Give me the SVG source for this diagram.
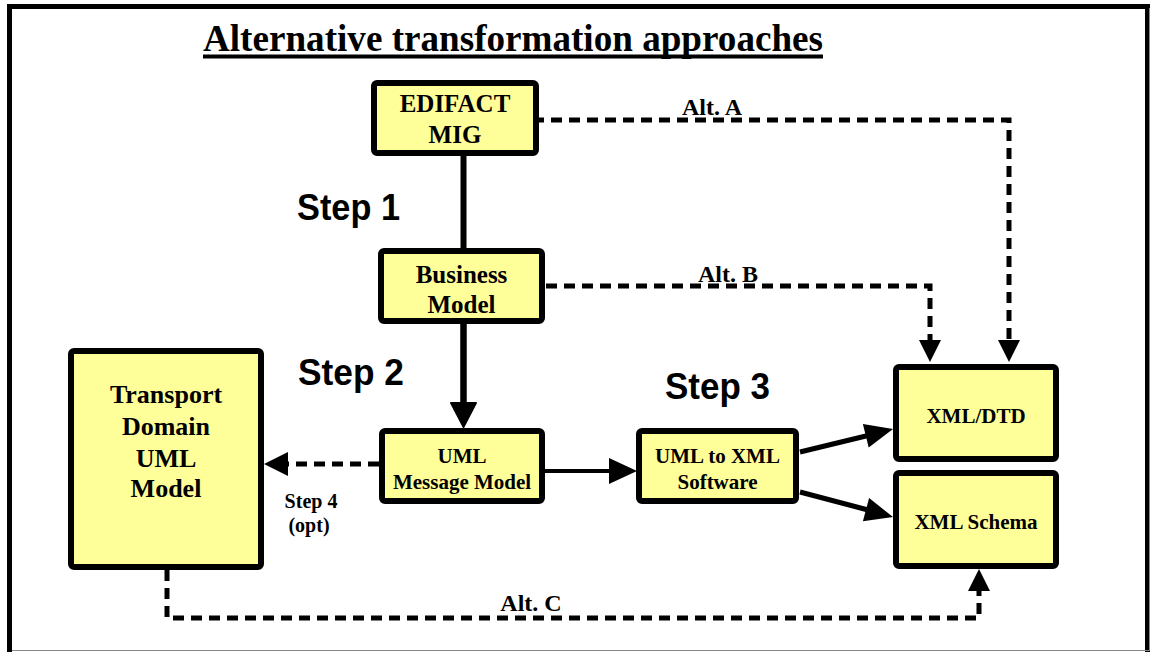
<svg xmlns="http://www.w3.org/2000/svg" width="1151" height="652" viewBox="0 0 1151 652">
  <style>
    .box { fill: #FFFF99; stroke: #000; stroke-width: 6; }
    .lbl { font-family: "Liberation Serif", "Times New Roman", serif; font-weight: bold; fill: #000; text-anchor: middle; }
    .step { font-family: "Liberation Sans", Arial, sans-serif; font-weight: bold; fill: #000; }
    .solid { fill: none; stroke: #000; }
    .dash { fill: none; stroke: #000; stroke-width: 5; stroke-dasharray: 11 7; }
    .head { fill: #000; stroke: none; }
  </style>

  <!-- frame -->
  <rect x="0" y="0" width="1151" height="652" fill="#fff"/>
  <path d="M9.5,652 V6.5 H1147.5 V652" fill="none" stroke="#000" stroke-width="5"/>
  <path d="M1149.5,8 V650.5 H12" fill="none" stroke="#888" stroke-width="1"/>

  <!-- title -->
  <g id="title">
    <text x="203" y="51" font-family="Liberation Serif, 'Times New Roman', serif" font-weight="bold" font-size="38" textLength="620" lengthAdjust="spacingAndGlyphs">Alternative transformation approaches</text>
    <rect x="203" y="54.5" width="620" height="4" fill="#000"/>
  </g>

  <!-- connectors -->
  <g id="connectors">
    <!-- step 1 -->
    <line class="solid" x1="463.5" y1="156" x2="463.5" y2="404" stroke-width="6"/>
    <polygon class="head" points="450,402 477,402 463.5,428"/>
    <!-- step 2 -->
    <line class="solid" x1="463.5" y1="324" x2="463.5" y2="404" stroke-width="6"/>
    <polygon class="head" points="450,403 477,403 463.5,429"/>
    <!-- message model to software -->
    <line class="solid" x1="545" y1="471" x2="612" y2="471" stroke-width="4"/>
    <polygon class="head" points="609,458 609,484 637,471"/>
    <!-- software to DTD -->
    <line class="solid" x1="800" y1="452" x2="868" y2="435.5" stroke-width="5"/>
    <polygon class="head" points="893,429 868.7,447.4 862.9,424"/>
    <!-- software to schema -->
    <line class="solid" x1="800" y1="492" x2="868" y2="510" stroke-width="5"/>
    <polygon class="head" points="893,517 869.1,498.1 862.9,521.3"/>
    <!-- Alt. A -->
    <path class="dash" d="M533,120 H1009 V341"/>
    <polygon class="head" points="998,340 1020,340 1009,362"/>
    <!-- Alt. B -->
    <path class="dash" d="M546,286 H930 V341"/>
    <polygon class="head" points="919,340 941,340 930,362"/>
    <!-- step 4 -->
    <path class="dash" d="M379,464 H286"/>
    <polygon class="head" points="288,452 288,476 264,464"/>
    <!-- Alt. C -->
    <path class="dash" d="M167,570 V618 H979 V590"/>
    <polygon class="head" points="968,591 990,591 979,569"/>
  </g>

  <!-- connector labels -->
  <g id="connector-labels">
    <text class="lbl" x="712" y="115" font-size="24">Alt. A</text>
    <text class="lbl" x="728" y="282" font-size="24">Alt. B</text>
    <text class="lbl" x="531" y="611" font-size="24">Alt. C</text>
    <text class="lbl" x="311" y="508" font-size="20">Step 4</text>
    <text class="lbl" x="309" y="532" font-size="20">(opt)</text>
    <text class="step" x="297" y="220" font-size="37" textLength="103" lengthAdjust="spacingAndGlyphs">Step 1</text>
    <text class="step" x="298" y="385" font-size="37" textLength="106" lengthAdjust="spacingAndGlyphs">Step 2</text>
    <text class="step" x="665" y="399" font-size="37" textLength="105" lengthAdjust="spacingAndGlyphs">Step 3</text>
  </g>

  <!-- nodes -->
  <g id="edifact-mig">
    <rect class="box" x="374" y="83" width="162" height="70" rx="3"/>
    <text class="lbl" x="455" y="112" font-size="25">EDIFACT</text>
    <text class="lbl" x="455" y="143" font-size="25">MIG</text>
  </g>
  <g id="business-model">
    <rect class="box" x="381" y="251" width="161" height="70" rx="3"/>
    <text class="lbl" x="461.5" y="283" font-size="25">Business</text>
    <text class="lbl" x="461.5" y="313" font-size="25">Model</text>
  </g>
  <g id="uml-message-model">
    <rect class="box" x="382" y="431" width="160" height="70" rx="3"/>
    <text class="lbl" x="462" y="463" font-size="21">UML</text>
    <text class="lbl" x="462" y="489" font-size="21">Message Model</text>
  </g>
  <g id="uml-to-xml-software">
    <rect class="box" x="639" y="431" width="157" height="70" rx="3"/>
    <text class="lbl" x="717.5" y="463" font-size="21">UML to XML</text>
    <text class="lbl" x="717.5" y="489" font-size="21">Software</text>
  </g>
  <g id="transport-domain-uml-model">
    <rect class="box" x="71" y="351" width="190" height="216" rx="3"/>
    <text class="lbl" x="166" y="403" font-size="26">Transport</text>
    <text class="lbl" x="166" y="435" font-size="26">Domain</text>
    <text class="lbl" x="166" y="467" font-size="26">UML</text>
    <text class="lbl" x="166" y="497" font-size="26">Model</text>
  </g>
  <g id="xml-dtd">
    <rect class="box" x="896" y="367" width="160" height="92" rx="3"/>
    <text class="lbl" x="976" y="423" font-size="21">XML/DTD</text>
  </g>
  <g id="xml-schema">
    <rect class="box" x="896" y="473" width="160" height="93" rx="3"/>
    <text class="lbl" x="976" y="529" font-size="21">XML Schema</text>
  </g>
</svg>
